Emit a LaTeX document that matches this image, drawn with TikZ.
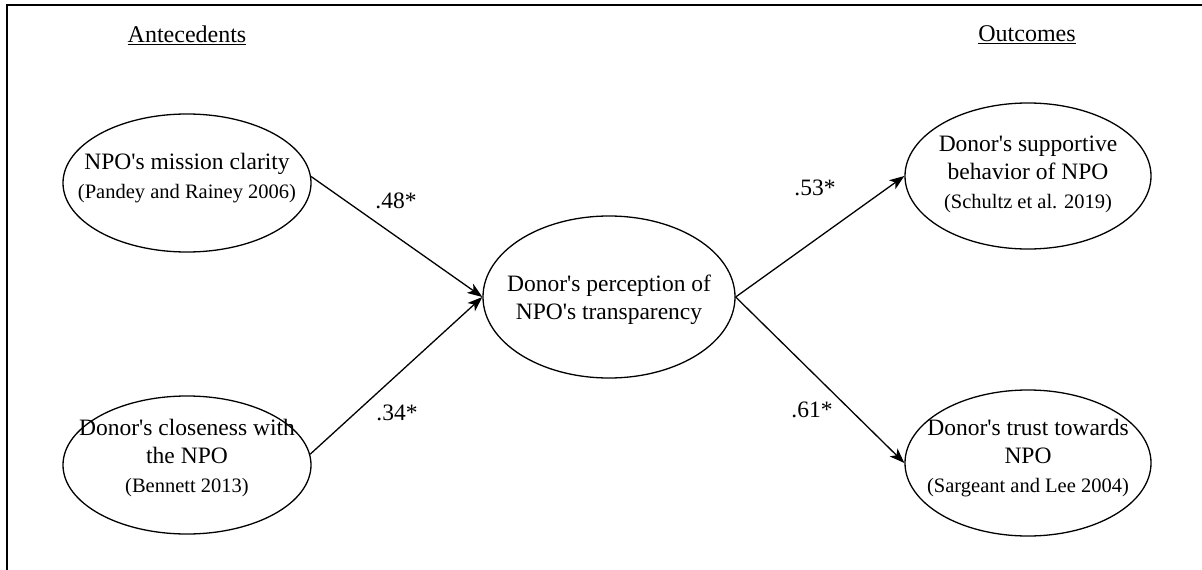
\documentclass[tikz,border=0pt]{standalone}
\usepackage{fontspec}
\setmainfont{Liberation Serif}[Ligatures=TeXOff]
\usetikzlibrary{shapes.geometric,arrows.meta}
\tikzset{
  oval/.style={draw, line width=1.3pt, ellipse, inner sep=0pt, minimum width=248pt, minimum height=138pt},
  bigoval/.style={oval, minimum width=252pt, minimum height=162pt},
  txt/.style={align=center, inner sep=0pt, font=\fontsize{23.5}{28.5}\selectfont},
  coef/.style={inner sep=0pt, font=\fontsize{23.5}{28}\selectfont},
  head/.style={inner sep=0pt, font=\fontsize{24}{28}\selectfont},
  arr/.style={line width=1.3pt, -{Stealth[length=15pt,width=11pt,inset=4pt]}},
  frame/.style={line width=1.6pt}
}
\newcommand{\refsmall}[1]{{\fontsize{20.5}{28.5}\selectfont #1}}
\begin{document}
\begin{tikzpicture}[x=1pt,y=-1pt]
\useasboundingbox (0,0) rectangle (1202,570);
\coordinate (tl) at (7,5);
\coordinate (tr) at (1202,5);
\coordinate (bl) at (7,570);
\draw[frame] (tr) -- (tl) -- (bl);

\node[head] (antec) at (187,35) {\underline{Antecedents}};
\node[head] (outc) at (1027,35) {\underline{Outcomes}};

\node[oval] (mission) at (187,183) {};
\node[txt] (missiont) at (187,178) {NPO's mission clarity\\ \refsmall{(Pandey and Rainey 2006)}};

\node[oval] (close) at (187,465) {};
\node[txt] (closet) at (187,458) {Donor's closeness with\\ the NPO\\ \refsmall{(Bennett 2013)}};

\node[bigoval] (center) at (609,297) {};
\node[txt] (centert) at (609,300) {Donor's perception of\\ NPO's transparency};

\node[oval, minimum width=246pt, minimum height=146pt] (support) at (1028,176) {};
\node[txt] (supportt) at (1028,174) {Donor's supportive\\ behavior of NPO\\ \refsmall{(Schultz et al. 2019)}};

\node[oval, minimum width=246pt, minimum height=146pt] (trust) at (1028,463) {};
\node[txt] (trustt) at (1028,458) {Donor's trust towards\\ NPO\\ \refsmall{(Sargeant and Lee 2004)}};

\draw[arr] (mission.3) -- (center.west);
\draw[arr] (close.5) -- (center.west);
\draw[arr] (center.east) -- (support.west);
\draw[arr] (center.east) -- (trust.west);

\node[coef] (c48) at (396,201) {.48*};
\node[coef] (c34) at (397,413) {.34*};
\node[coef] (c53) at (815,188) {.53*};
\node[coef] (c61) at (812,410) {.61*};
\end{tikzpicture}
\end{document}
